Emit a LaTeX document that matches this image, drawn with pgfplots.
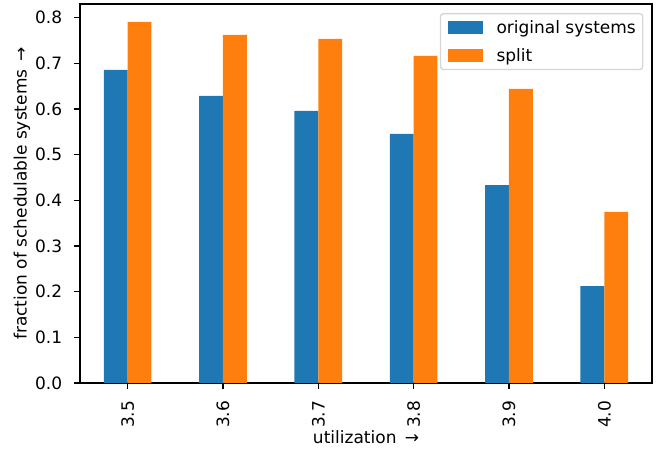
\documentclass[border=0pt]{standalone}
\usepackage{pgfplots}
\pgfplotsset{compat=1.18}
\usepackage{fontspec}
\setmainfont{DejaVu Sans}
\definecolor{cA}{HTML}{1F77B4}
\definecolor{cB}{HTML}{FF7F0E}
\definecolor{legedge}{HTML}{D6D6D6}
\newcommand{\ff}{\fontsize{17}{20.4}\selectfont}
\begin{document}
\begin{tikzpicture}
\path[use as bounding box] (-80pt,-66pt) rectangle (582pt,383pt);
\begin{axis}[
  at={(0pt,0pt)}, anchor=south west,
  scale only axis, width=572pt, height=379pt,
  /pgf/number format/assume math mode=true,
  tick label style={font=\ff},
  label style={font=\ff},
  xmin=-0.5, xmax=5.5, ymin=0, ymax=0.83,
  xtick={0,1,2,3,4,5},
  xticklabels={3.5,3.6,3.7,3.8,3.9,4.0},
  ytick={0,0.1,0.2,0.3,0.4,0.5,0.6,0.7,0.8},
  yticklabel style={/pgf/number format/fixed, /pgf/number format/fixed zerofill, /pgf/number format/precision=1, anchor=east, inner sep=0pt},
  tick align=outside, tick pos=left,
  major tick length=5.9pt,
  every tick/.style={black, line width=1.36pt},
  axis line style={line width=1.36pt},
  xticklabel style={rotate=90, anchor=east, inner sep=0pt},
  xticklabel shift=11.8pt, yticklabel shift=11.8pt,
  xlabel={utilization \,→},
  ylabel={fraction of schedulable systems \,→},
  xlabel style={at={(axis description cs:0.5,-0.1425)}, anchor=center},
  ylabel style={at={(axis description cs:-0.1014,0.5)}, anchor=center},
  legend cell align=left,
  legend image code/.code={\fill[#1, sharp corners, fill opacity=1] (0pt,-6.5pt) rectangle (35pt,6.5pt);},
  legend style={at={(1,1)}, anchor=north east, xshift=-8.5pt, yshift=-9pt,
    draw=legedge, line width=1.4pt, rounded corners=3pt, fill=white,
    inner xsep=7pt, inner ysep=4.5pt, row sep=10pt,
    font=\ff,
    nodes={inner xsep=0pt, inner ysep=2pt},
    /tikz/every odd column/.append style={column sep=14pt}},
]
\addplot[ybar, bar width=0.25, bar shift=-0.125, fill=cA, draw=none] coordinates {
(0,0.6855) (1,0.6286) (2,0.5957) (3,0.5453) (4,0.4336) (5,0.2124)};
\addlegendentry{original systems}
\addplot[ybar, bar width=0.25, bar shift=0.125, fill=cB, draw=none] coordinates {
(0,0.7906) (1,0.7622) (2,0.7534) (3,0.7162) (4,0.6439) (5,0.3745)};
\addlegendentry{split}
\end{axis}
\end{tikzpicture}
\end{document}
